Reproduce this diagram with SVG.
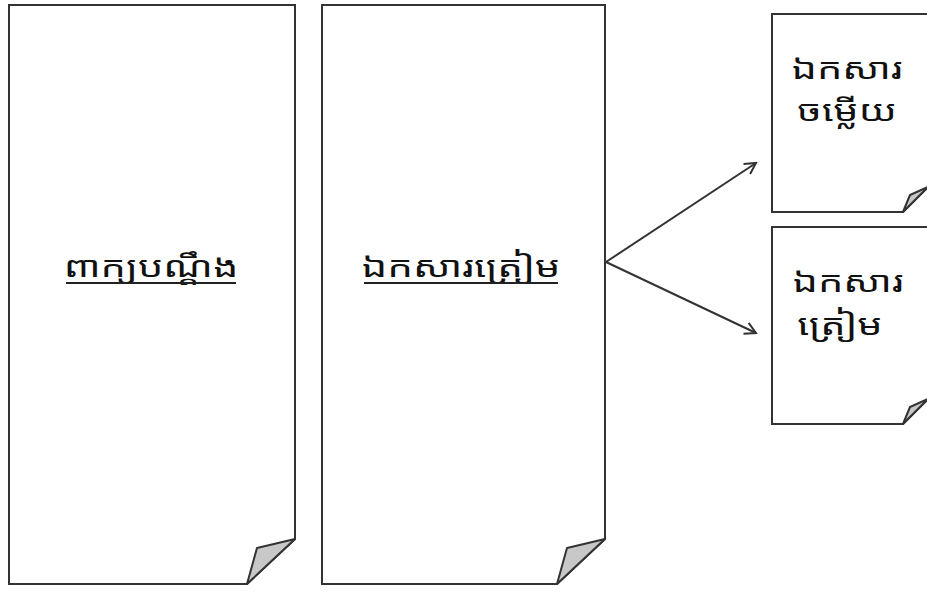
<svg xmlns="http://www.w3.org/2000/svg" width="927" height="592" viewBox="0 0 927 592">
<style>
.page{fill:#fff;stroke:#333;stroke-width:2}
.curl{fill:#c8c8c8;stroke:#333;stroke-width:2;stroke-linejoin:round}
.lbl{font-family:"Noto Sans Khmer","Khmer OS","Noto Sans","DejaVu Sans",sans-serif;font-size:29px;fill:#111;text-anchor:middle}
.ul{stroke:#222;stroke-width:2}
.conn{stroke:#333;stroke-width:2;fill:none}
</style>
<defs>
<marker id="arr" markerWidth="14" markerHeight="14" refX="12" refY="7" orient="auto" markerUnits="userSpaceOnUse">
<path d="M1,1 L12,7 L1,13" fill="none" stroke="#333" stroke-width="2"/>
</marker>
</defs>
<rect width="927" height="592" fill="#fff"/>
<g id="node-complaint">
<path class="page" d="M9,5 H295 V539 L247,584 H9 Z"/>
<path class="curl" d="M247,584 L257,548 L295,539 Z"/>
<text class="lbl" transform="translate(151,277) scale(1.38,1)">ពាក្យបណ្ដឹង</text>
<line class="ul" x1="66" y1="283" x2="236" y2="283"/>
</g>
<g id="node-prepared">
<path class="page" d="M322,5 H605 V539 L557,584 H322 Z"/>
<path class="curl" d="M557,584 L567,548 L605,539 Z"/>
<text class="lbl" transform="translate(461,277) scale(1.4,1)">ឯកសារត្រៀម</text>
<line class="ul" x1="364" y1="283" x2="558" y2="283"/>
</g>
<g id="node-answer">
<path class="page" d="M772,14 H928 V187 L903,212 H772 Z"/>
<path class="curl" d="M903,212 L910,195 L928,187 Z"/>
<text class="lbl" transform="translate(847,79) scale(1.38,1)">ឯកសារ</text>
<text class="lbl" transform="translate(847,121) scale(1.38,1)">ចម្លើយ</text>
</g>
<g id="node-prep2">
<path class="page" d="M772,227 H928 V399 L903,424 H772 Z"/>
<path class="curl" d="M903,424 L910,407 L928,399 Z"/>
<text class="lbl" transform="translate(848,292) scale(1.38,1)">ឯកសារ</text>
<text class="lbl" transform="translate(840,335) scale(1.38,1)">ត្រៀម</text>
</g>
<g id="connectors">
<line class="conn" x1="606" y1="262" x2="756" y2="163" marker-end="url(#arr)"/>
<line class="conn" x1="606" y1="262" x2="756" y2="333" marker-end="url(#arr)"/>
</g>
</svg>
